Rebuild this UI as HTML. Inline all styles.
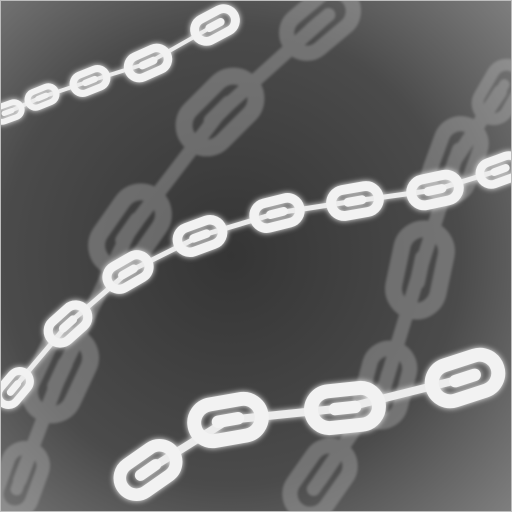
<!DOCTYPE html>
<html><head><meta charset="utf-8">
<style>
html,body{margin:0;padding:0;background:#666;}
svg{display:block;}
</style></head>
<body>
<svg id="scene" width="512" height="512" viewBox="0 0 512 512" xmlns="http://www.w3.org/2000/svg">
<defs>
<radialGradient id="bg" cx="0.45" cy="0.5" r="0.75">
<stop offset="0" stop-color="#353535"/>
<stop offset="0.6" stop-color="#4b4b4b"/>
<stop offset="1" stop-color="#808080"/>
</radialGradient>
<filter id="glow" x="-50%" y="-50%" width="200%" height="200%">
<feGaussianBlur stdDeviation="3" result="b"/>
<feMerge><feMergeNode in="b"/><feMergeNode in="SourceGraphic"/></feMerge>
</filter>
<filter id="soft"><feGaussianBlur stdDeviation="1.2"/></filter>
</defs>
<rect x="0" y="0" width="512" height="512" fill="url(#bg)"/>
<g id="faded" filter="url(#soft)" opacity="0.33"></g>
<g id="bright" filter="url(#glow)"></g>
<rect x="0.5" y="0.5" width="511" height="511" fill="none" stroke="#bdbdbd" stroke-width="1"/>
</svg>
<script>
// link lists: [cx, cy, length, angleDeg, face(1)/side(0)]
const chainTop = [[8,112,34,-20,1],[42,97,36,-22,1],[90,81,42,-22,1],[148,63,50,-24,1],[215,25,52,-28,1]];
const chainMid = [[14,388,46,-50,1],[68,324,54,-42,1],[128,272,54,-30,1],[200,236,56,-20,1],[277,213,56,-14,1],[355,201,58,-10,1],[435,190,58,-12,1],[500,170,50,-20,1]];
const chainBot = [[148,470,74,-35,1],[228,420,82,-10,1],[345,408,82,-6,1],[465,378,82,-18,1]];
const fadedA = [[320,22,90,-40,1],[220,112,100,-45,1],[130,230,100,-55,1],[60,375,100,-65,1],[20,480,80,-70,1]];
const fadedB = [[500,92,70,-60,1],[455,160,90,-70,1],[420,270,100,-78,1],[385,385,90,-75,1],[320,480,90,-55,1]];
const NS='http://www.w3.org/2000/svg';
function link(g,l,color,name){
  const [cx,cy,len,ang]=l;
  const h=len*0.62, sw=len*0.17;
  const grp=document.createElementNS(NS,'g');
  grp.setAttribute('transform',`translate(${cx},${cy}) rotate(${ang})`);
  
  
  const r=document.createElementNS(NS,'rect');
  r.setAttribute('x',-len/2+sw/2);r.setAttribute('y',-h/2+sw/2);
  r.setAttribute('width',len-sw);r.setAttribute('height',h-sw);
  r.setAttribute('rx',(h-sw)/2);
  r.setAttribute('fill','none');r.setAttribute('stroke',color);r.setAttribute('stroke-width',sw);
  grp.appendChild(r);
  const bar=document.createElementNS(NS,'rect');
  bar.setAttribute('x',-len*0.2);bar.setAttribute('y',-sw*0.45);
  bar.setAttribute('width',len*0.4);bar.setAttribute('height',sw*0.9);bar.setAttribute('rx',sw*0.45);
  bar.setAttribute('fill',color);
  grp.appendChild(bar);
  g.appendChild(grp);
}
function connectors(g,arr,color,w,name){
  for(let i=0;i<arr.length-1;i++){
    const ln=document.createElementNS(NS,'line');
    ln.setAttribute('x1',arr[i][0]);ln.setAttribute('y1',arr[i][1]);
    ln.setAttribute('x2',arr[i+1][0]);ln.setAttribute('y2',arr[i+1][1]);
    ln.setAttribute('stroke',color);ln.setAttribute('stroke-width',w);ln.setAttribute('stroke-linecap','round');
    
    
    g.appendChild(ln);
  }
}
const faded=document.getElementById('faded'), bright=document.getElementById('bright');
[[fadedA,'faded-chain-a'],[fadedB,'faded-chain-b']].forEach(([c,n])=>{
  connectors(faded,c,'#c8c8c8',14,n+'-connector');
  c.forEach(l=>link(faded,l,'#c8c8c8',n+'-link'));
});
[[chainTop,'top-chain',4],[chainMid,'middle-chain',5],[chainBot,'bottom-chain',8]].forEach(([c,n,w])=>{
  connectors(bright,c,'#ececec',w,n+'-connector');
  c.forEach(l=>link(bright,l,'#f2f2f2',n+'-link'));
});
</script>
</body></html>
